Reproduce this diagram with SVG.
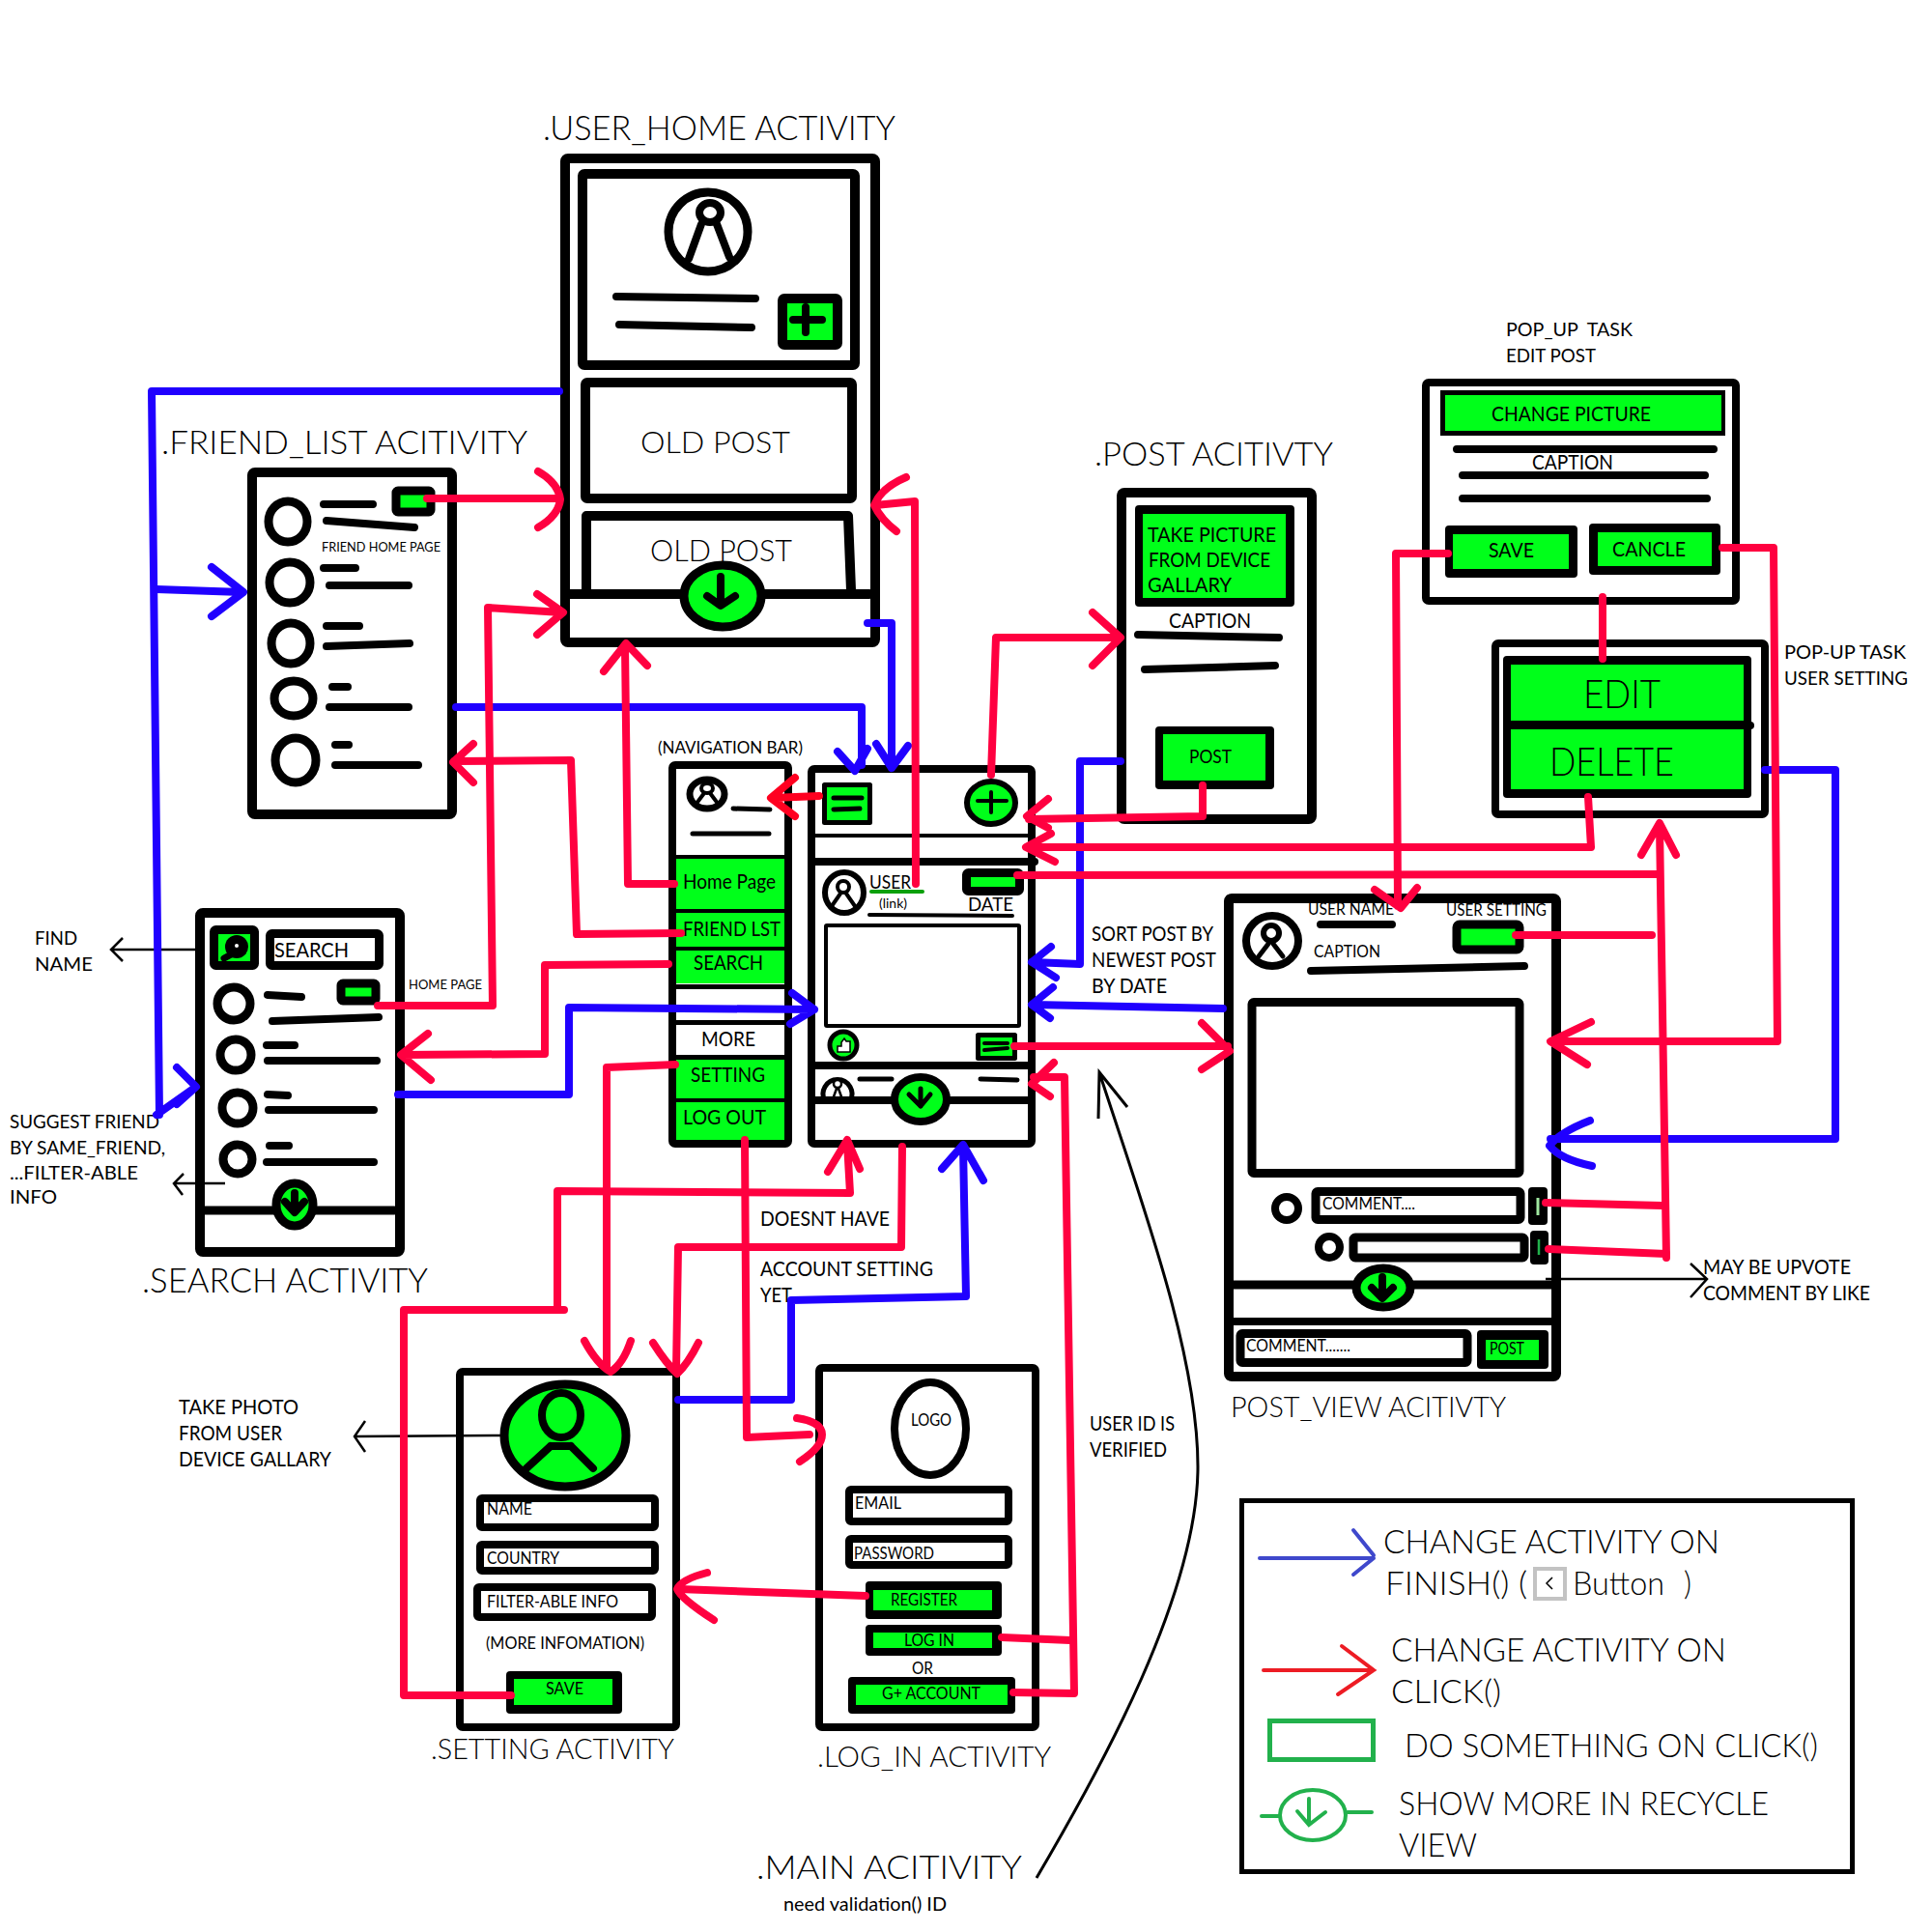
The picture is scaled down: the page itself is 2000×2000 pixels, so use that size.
<svg xmlns="http://www.w3.org/2000/svg" width="2000" height="2000" viewBox="0 0 2000 2000">
<style>
text{font-family:"Lato","Open Sans","Liberation Sans",sans-serif;font-weight:400;fill:#000}
text[font-size="29"],text[font-size="30"],text[font-size="32"],text[font-size="33"],text[font-size="34"],text[font-size="35"],text[font-size="42"]{font-weight:300}
.box{fill:#fff;stroke:#000;stroke-linejoin:round}
.btn{fill:#00ff1a;stroke:#000;stroke-linejoin:round}
.g{fill:#00ff1a;stroke:none}
.k{fill:#000;stroke:none}
.ln{fill:none;stroke:#000;stroke-linecap:round;stroke-linejoin:round}
.r{fill:none;stroke:#ff0040;stroke-width:8;stroke-linecap:round;stroke-linejoin:round}
.b{fill:none;stroke:#2000ff;stroke-width:8;stroke-linecap:round;stroke-linejoin:round}
.a{fill:none;stroke:#000;stroke-width:2.5}
</style>
<rect width="2000" height="2000" fill="#fff"/>

<g id="user_home_activity">
<text x="562" y="145" font-size="35" textLength="365" lengthAdjust="spacingAndGlyphs">.USER_HOME ACTIVITY</text>
<rect class="box" x="585" y="164" width="321" height="501" rx="3" stroke-width="10"/>
<rect class="box" x="603" y="180" width="282" height="198" rx="2" stroke-width="10"/>
<circle class="box" cx="733" cy="240" r="41" stroke-width="9"/>
<ellipse class="box" cx="735" cy="220" rx="11" ry="10" stroke-width="8"/>
<path class="ln" stroke-width="8" d="M726 232L713 268M742 232L755 266"/>
<path class="ln" stroke-width="8" d="M638 307L782 309M641 336L778 339"/>
<rect class="btn" x="810" y="309" width="57" height="48" rx="2" stroke-width="10"/>
<path class="ln" stroke-width="8" d="M821 331H851M834 318V344"/>
<rect class="box" x="606" y="396" width="276" height="120" rx="2" stroke-width="10"/>
<text x="663" y="469" font-size="32" textLength="155" lengthAdjust="spacingAndGlyphs">OLD POST</text>
<path class="ln" stroke-width="10" d="M607 611V534H878L881 611"/>
<text x="673" y="581" font-size="32" textLength="147" lengthAdjust="spacingAndGlyphs">OLD POST</text>
<path class="ln" stroke-width="10" d="M587 615H900"/>
<ellipse class="btn" cx="748" cy="617" rx="40" ry="32" stroke-width="9"/>
<path class="ln" stroke-width="8" d="M746 597V626M732 617L746 627L761 617"/>
</g>

<g id="friend_list_activity">
<text x="167" y="470" font-size="34" textLength="379" lengthAdjust="spacingAndGlyphs">.FRIEND_LIST ACITIVITY</text>
<rect class="box" x="261" y="489" width="207" height="354" rx="3" stroke-width="10"/>
<ellipse class="box" cx="298" cy="540" rx="20" ry="21" stroke-width="9"/>
<ellipse class="box" cx="300" cy="603" rx="21" ry="21" stroke-width="9"/>
<ellipse class="box" cx="301" cy="666" rx="20" ry="21" stroke-width="9"/>
<ellipse class="box" cx="304" cy="723" rx="20" ry="18" stroke-width="9"/>
<ellipse class="box" cx="306" cy="787" rx="21" ry="23" stroke-width="9"/>
<path class="ln" stroke-width="8" d="M335 522H386M338 539L429 546M335 588H368M341 606H423M338 648H372M338 669L424 666M344 711H360M341 732H423M347 771H361M347 792H433"/>
<rect class="btn" x="410" y="508" width="36" height="22" rx="2" stroke-width="9"/>
<text x="333" y="571" font-size="13" textLength="123" lengthAdjust="spacingAndGlyphs">FRIEND HOME PAGE</text>
</g>

<g id="search_activity">
<text x="147" y="1338" font-size="35" textLength="296" lengthAdjust="spacingAndGlyphs">.SEARCH ACTIVITY</text>
<rect class="box" x="207" y="945" width="207" height="351" rx="3" stroke-width="10"/>
<rect class="btn" x="221.500" y="962.500" width="42" height="37" rx="2" stroke-width="9"/>
<circle class="k" cx="245" cy="980" r="12"/>
<circle cx="245" cy="979" r="2" fill="#fff"/>
<path class="ln" stroke-width="7" d="M243 986L232 992"/>
<rect class="box" x="279.500" y="966.500" width="113" height="33" rx="2" stroke-width="9"/>
<text x="284" y="991" font-size="22" textLength="77" lengthAdjust="spacingAndGlyphs">SEARCH</text>
<circle class="box" cx="242" cy="1039" r="17" stroke-width="9"/>
<circle class="box" cx="244" cy="1092" r="16" stroke-width="9"/>
<circle class="box" cx="246" cy="1147" r="16" stroke-width="9"/>
<circle class="box" cx="246" cy="1200" r="15" stroke-width="9"/>
<path class="ln" stroke-width="8" d="M277 1030L312 1032M282 1057L392 1053M276 1082H305M277 1098H390M277 1133L298 1134M278 1149H387M279 1186H299M276 1203H387"/>
<rect class="btn" x="353" y="1018" width="36" height="18" rx="2" stroke-width="9"/>
<text x="423" y="1024" font-size="13" textLength="76" lengthAdjust="spacingAndGlyphs">HOME PAGE</text>
<path class="ln" stroke-width="9" d="M210 1253H408"/>
<ellipse class="btn" cx="305" cy="1247" rx="19" ry="22" stroke-width="9"/>
<path class="ln" stroke-width="8" d="M305 1235V1252M295 1244L305 1255L315 1244"/>
</g>

<g id="navigation_bar">
<text x="681" y="780" font-size="17" textLength="150" lengthAdjust="spacingAndGlyphs">(NAVIGATION BAR)</text>
<rect class="box" x="696" y="792" width="120" height="392" rx="3" stroke-width="8"/>
<ellipse class="box" cx="732" cy="822" rx="18" ry="15" stroke-width="7"/>
<ellipse class="box" cx="732" cy="816" rx="6" ry="5" stroke-width="4"/>
<path class="ln" stroke-width="4" d="M729 821L720 833M735 821L744 833"/>
<path class="ln" stroke-width="5" d="M759 837L797 838M717 863H796"/>
<path class="ln" stroke-width="4" d="M700 887H812"/>
<rect class="g" x="700" y="889" width="112" height="52"/>
<rect class="g" x="700" y="945" width="112" height="35"/>
<rect class="g" x="700" y="984" width="112" height="34"/>
<rect class="g" x="700" y="1097" width="112" height="40"/>
<rect class="g" x="700" y="1141" width="112" height="39"/>
<rect class="k" x="700" y="941" width="112" height="4"/>
<rect class="k" x="700" y="980" width="112" height="4"/>
<rect class="k" x="700" y="1019" width="112" height="5"/>
<rect class="k" x="700" y="1056" width="112" height="5"/>
<rect class="k" x="700" y="1092" width="112" height="5"/>
<rect class="k" x="700" y="1137" width="112" height="4"/>
<text x="707" y="920" font-size="22" textLength="96" lengthAdjust="spacingAndGlyphs">Home Page</text>
<text x="707" y="969" font-size="22" textLength="101" lengthAdjust="spacingAndGlyphs">FRIEND LST</text>
<text x="718" y="1004" font-size="22" textLength="72" lengthAdjust="spacingAndGlyphs">SEARCH</text>
<text x="726" y="1083" font-size="22" textLength="56" lengthAdjust="spacingAndGlyphs">MORE</text>
<text x="715" y="1120" font-size="22" textLength="77" lengthAdjust="spacingAndGlyphs">SETTING</text>
<text x="707" y="1164" font-size="22" textLength="86" lengthAdjust="spacingAndGlyphs">LOG OUT</text>
</g>

<g id="main_feed">
<rect class="box" x="840" y="796" width="228" height="388" rx="3" stroke-width="8"/>
<rect class="btn" x="853.500" y="812.500" width="47" height="39" stroke-width="5"/>
<path class="ln" stroke-width="5" d="M863 826H892M863 838L890 837"/>
<ellipse class="btn" cx="1026" cy="831" rx="25" ry="22" stroke-width="6"/>
<path class="ln" stroke-width="4" d="M1012 829H1042M1026 820V841"/>
<path class="ln" stroke-width="4" d="M843 865H1066"/>
<path class="ln" stroke-width="8" d="M843 892H1071"/>
<ellipse class="box" cx="874" cy="924" rx="20" ry="21" stroke-width="6"/>
<circle class="box" cx="873" cy="918" r="6" stroke-width="4"/>
<path class="ln" stroke-width="4" d="M870 925L861 938M876 925L885 938"/>
<text x="900" y="920" font-size="20" textLength="43" lengthAdjust="spacingAndGlyphs">USER</text>
<path d="M902 923H955" fill="none" stroke="#0aa00a" stroke-width="4" stroke-linecap="round"/>
<text x="910" y="940" font-size="13" textLength="29" lengthAdjust="spacingAndGlyphs">(link)</text>
<rect class="btn" x="1000.500" y="903.500" width="55" height="19" rx="2" stroke-width="9"/>
<text x="1002" y="943" font-size="20" textLength="47" lengthAdjust="spacingAndGlyphs">DATE</text>
<path class="ln" stroke-width="4" d="M900 947L1048 948"/>
<rect class="box" x="855" y="958" width="200" height="104" rx="1" stroke-width="4"/>
<circle class="btn" cx="873" cy="1082" r="14" stroke-width="5"/>
<path d="M867 1083H871V1079L874 1075L876 1078H880V1089H867Z" fill="#fff" stroke="#000" stroke-width="1.500"/>
<rect class="btn" x="1012.500" y="1071.500" width="38" height="24" stroke-width="5"/>
<path class="ln" stroke-width="4" d="M1019 1080H1043M1019 1087L1043 1085"/>
<path class="ln" stroke-width="8" d="M843 1103H1065"/>
<path class="ln" stroke-width="5" d="M854 1140A15 15 0 1 1 880 1140"/>
<circle class="box" cx="867" cy="1122" r="4" stroke-width="2.500"/>
<path class="ln" stroke-width="2.500" d="M866 1127L862 1138M868 1127L872 1138"/>
<path class="ln" stroke-width="5" d="M890 1117H923M1015 1117L1053 1118"/>
<path class="ln" stroke-width="8" d="M843 1139H1065"/>
<ellipse class="btn" cx="953" cy="1138" rx="27" ry="23" stroke-width="8"/>
<path class="ln" stroke-width="5" d="M953 1127V1145M941 1133L953 1145L963 1133"/>
</g>

<g id="post_activity">
<text x="1133" y="482" font-size="34" textLength="247" lengthAdjust="spacingAndGlyphs">.POST ACITIVTY</text>
<rect class="box" x="1161" y="510" width="197" height="338" rx="3" stroke-width="10"/>
<rect class="k" x="1175" y="523" width="165" height="105" rx="4"/>
<rect class="g" x="1183" y="532" width="148" height="87"/>
<text x="1188" y="561" font-size="21" textLength="133" lengthAdjust="spacingAndGlyphs">TAKE PICTURE</text>
<text x="1189" y="587" font-size="21" textLength="126" lengthAdjust="spacingAndGlyphs">FROM DEVICE</text>
<text x="1188" y="613" font-size="21" textLength="87" lengthAdjust="spacingAndGlyphs">GALLARY</text>
<text x="1210" y="650" font-size="21" textLength="85" lengthAdjust="spacingAndGlyphs">CAPTION</text>
<path class="ln" stroke-width="8" d="M1178 657L1324 660M1185 693L1320 689"/>
<rect class="k" x="1196" y="752" width="123" height="65" rx="4"/>
<rect class="g" x="1204" y="760" width="106" height="48"/>
<text x="1231" y="790" font-size="20" textLength="44" lengthAdjust="spacingAndGlyphs">POST</text>
</g>

<g id="popup_edit_post">
<text x="1559" y="348" font-size="20" textLength="131" lengthAdjust="spacingAndGlyphs" xml:space="preserve">POP_UP  TASK</text>
<text x="1559" y="375" font-size="20" textLength="93" lengthAdjust="spacingAndGlyphs">EDIT POST</text>
<rect class="box" x="1476" y="396" width="321" height="226" rx="3" stroke-width="8"/>
<rect class="k" x="1491" y="404" width="295" height="47"/>
<rect class="g" x="1496" y="409" width="286" height="37"/>
<text x="1544" y="436" font-size="21" textLength="165" lengthAdjust="spacingAndGlyphs">CHANGE PICTURE</text>
<path class="ln" stroke-width="8" d="M1508 465H1774M1514 492H1765M1514 516H1767"/>
<text x="1586" y="486" font-size="21" textLength="84" lengthAdjust="spacingAndGlyphs">CAPTION</text>
<rect class="k" x="1496" y="544" width="137" height="54" rx="4"/>
<rect class="g" x="1504" y="553" width="120" height="36"/>
<text x="1541" y="577" font-size="21" textLength="47" lengthAdjust="spacingAndGlyphs">SAVE</text>
<rect class="k" x="1645" y="542" width="136" height="53" rx="4"/>
<rect class="g" x="1654" y="551" width="118" height="35"/>
<text x="1669" y="576" font-size="21" textLength="76" lengthAdjust="spacingAndGlyphs">CANCLE</text>
</g>

<g id="popup_user_setting">
<text x="1847" y="682" font-size="20" textLength="126" lengthAdjust="spacingAndGlyphs">POP-UP TASK</text>
<text x="1847" y="709" font-size="20" textLength="128" lengthAdjust="spacingAndGlyphs">USER SETTING</text>
<rect class="box" x="1548" y="666" width="279" height="177" rx="3" stroke-width="8"/>
<rect class="k" x="1556" y="679" width="257" height="147" rx="4"/>
<rect class="g" x="1564" y="688" width="241" height="58"/>
<rect class="g" x="1564" y="755" width="241" height="62"/>
<path class="ln" stroke-width="8" d="M1806 751H1812"/>
<text x="1639" y="733" font-size="42" textLength="80" lengthAdjust="spacingAndGlyphs">EDIT</text>
<text x="1604" y="803" font-size="42" textLength="129" lengthAdjust="spacingAndGlyphs">DELETE</text>
</g>

<g id="post_view_activity">
<rect class="box" x="1272" y="930" width="339" height="495" rx="3" stroke-width="10"/>
<ellipse class="box" cx="1317" cy="974" rx="27" ry="26" stroke-width="8"/>
<circle class="box" cx="1316" cy="966" r="8" stroke-width="6"/>
<path class="ln" stroke-width="5" d="M1313 977L1303 990M1318 977L1328 990"/>
<text x="1354" y="947" font-size="18" textLength="89" lengthAdjust="spacingAndGlyphs">USER NAME</text>
<text x="1497" y="948" font-size="18" textLength="104" lengthAdjust="spacingAndGlyphs">USER SETTING</text>
<text x="1360" y="991" font-size="18" textLength="69" lengthAdjust="spacingAndGlyphs">CAPTION</text>
<path class="ln" stroke-width="8" d="M1367 957H1441M1357 1005L1578 1000"/>
<rect class="btn" x="1508" y="957" width="65" height="26" rx="3" stroke-width="9"/>
<rect class="box" x="1296" y="1037.500" width="277" height="177" rx="2" stroke-width="9"/>
<circle class="box" cx="1332" cy="1251" r="12" stroke-width="8"/>
<rect class="box" x="1362" y="1233.500" width="212" height="29" rx="2" stroke-width="9"/>
<text x="1369" y="1252" font-size="17" textLength="96" lengthAdjust="spacingAndGlyphs">COMMENT....</text>
<rect class="k" x="1582" y="1229" width="20" height="39" rx="4"/>
<path d="M1592 1240V1258" stroke="#a0e8a0" stroke-width="3"/>
<circle class="box" cx="1376" cy="1291" r="11" stroke-width="8"/>
<rect class="box" x="1401" y="1281" width="177" height="21" rx="2" stroke-width="9"/>
<rect class="k" x="1584" y="1274" width="19" height="35" rx="4"/>
<path d="M1593 1283V1299" stroke="#22b14c" stroke-width="2.500"/>
<path class="ln" stroke-width="9" d="M1277 1330H1607"/>
<ellipse class="btn" cx="1432" cy="1333" rx="28" ry="20" stroke-width="9"/>
<path class="ln" stroke-width="8" d="M1431 1322V1343M1420 1333L1431 1344L1442 1333"/>
<path class="ln" stroke-width="8" d="M1277 1368H1607"/>
<rect class="box" x="1284" y="1380.500" width="235" height="30" rx="2" stroke-width="9"/>
<text x="1290" y="1399" font-size="17" textLength="108" lengthAdjust="spacingAndGlyphs">COMMENT.......</text>
<rect class="k" x="1529" y="1377" width="74" height="40" rx="4"/>
<rect class="g" x="1538" y="1387" width="55" height="21"/>
<text x="1542" y="1402" font-size="18" textLength="36" lengthAdjust="spacingAndGlyphs">POST</text>
<text x="1274" y="1467" font-size="30" textLength="285" lengthAdjust="spacingAndGlyphs">POST_VIEW ACITIVTY</text>
</g>

<g id="setting_activity">
<rect class="box" x="476" y="1420" width="224" height="368" rx="3" stroke-width="8"/>
<ellipse class="btn" cx="585" cy="1486" rx="63" ry="53" stroke-width="9"/>
<ellipse cx="581" cy="1465" rx="20" ry="23" fill="none" stroke="#000" stroke-width="8"/>
<path class="ln" stroke-width="8" d="M570 1497L545 1520M591 1497L614 1520M570 1497H591"/>
<rect class="box" x="497" y="1551" width="181" height="30" rx="2" stroke-width="8"/>
<text x="504" y="1568" font-size="18" textLength="47" lengthAdjust="spacingAndGlyphs">NAME</text>
<rect class="box" x="497" y="1599" width="181" height="27" rx="2" stroke-width="8"/>
<text x="504" y="1619" font-size="18" textLength="75" lengthAdjust="spacingAndGlyphs">COUNTRY</text>
<rect class="box" x="494" y="1643" width="181" height="31" rx="2" stroke-width="8"/>
<text x="504" y="1664" font-size="18" textLength="136" lengthAdjust="spacingAndGlyphs">FILTER-ABLE INFO</text>
<text x="503" y="1707" font-size="18" textLength="164" lengthAdjust="spacingAndGlyphs">(MORE INFOMATION)</text>
<rect class="k" x="524" y="1730" width="120" height="44" rx="4"/>
<rect class="g" x="532" y="1738" width="102" height="27"/>
<text x="565" y="1754" font-size="18" textLength="39" lengthAdjust="spacingAndGlyphs">SAVE</text>
<text x="446" y="1821" font-size="29" textLength="252" lengthAdjust="spacingAndGlyphs">.SETTING ACTIVITY</text>
</g>

<g id="log_in_activity">
<rect class="box" x="848" y="1416" width="224" height="372" rx="3" stroke-width="8"/>
<ellipse class="box" cx="963" cy="1479" rx="37" ry="48" stroke-width="8"/>
<text x="943" y="1476" font-size="18" textLength="42" lengthAdjust="spacingAndGlyphs">LOGO</text>
<rect class="box" x="879" y="1542" width="165" height="33" rx="2" stroke-width="8"/>
<text x="885" y="1562" font-size="18" textLength="48" lengthAdjust="spacingAndGlyphs">EMAIL</text>
<rect class="box" x="879" y="1593" width="165" height="27" rx="2" stroke-width="8"/>
<text x="884" y="1614" font-size="18" textLength="83" lengthAdjust="spacingAndGlyphs">PASSWORD</text>
<rect class="k" x="896" y="1637" width="141" height="39" rx="4"/>
<rect class="g" x="904" y="1646" width="123" height="21"/>
<text x="922" y="1662" font-size="18" textLength="69" lengthAdjust="spacingAndGlyphs">REGISTER</text>
<rect class="k" x="896" y="1682" width="141" height="32" rx="4"/>
<rect class="g" x="904" y="1690" width="123" height="16"/>
<text x="936" y="1704" font-size="18" textLength="52" lengthAdjust="spacingAndGlyphs">LOG IN</text>
<text x="944" y="1733" font-size="18" textLength="22" lengthAdjust="spacingAndGlyphs">OR</text>
<rect class="k" x="878" y="1736" width="173" height="38" rx="4"/>
<rect class="g" x="886" y="1744" width="157" height="21"/>
<text x="913" y="1759" font-size="18" textLength="102" lengthAdjust="spacingAndGlyphs">G+ ACCOUNT</text>
<text x="846" y="1829" font-size="29" textLength="242" lengthAdjust="spacingAndGlyphs">.LOG_IN ACTIVITY</text>
</g>

<g id="main_activity">
<text x="783" y="1945" font-size="33" textLength="275" lengthAdjust="spacingAndGlyphs">.MAIN ACITIVITY</text>
<text x="811" y="1978" font-size="19" textLength="169" lengthAdjust="spacingAndGlyphs">need validation() ID</text>
</g>

<g id="notes">
<text x="36" y="978" font-size="20" textLength="44" lengthAdjust="spacingAndGlyphs">FIND</text>
<text x="36" y="1005" font-size="20" textLength="60" lengthAdjust="spacingAndGlyphs">NAME</text>
<text x="10" y="1168" font-size="20" textLength="155" lengthAdjust="spacingAndGlyphs">SUGGEST FRIEND</text>
<text x="10" y="1195" font-size="20" textLength="161" lengthAdjust="spacingAndGlyphs">BY SAME_FRIEND,</text>
<text x="10" y="1221" font-size="20" textLength="133" lengthAdjust="spacingAndGlyphs">...FILTER-ABLE</text>
<text x="10" y="1246" font-size="20" textLength="49" lengthAdjust="spacingAndGlyphs">INFO</text>
<text x="185" y="1464" font-size="21" textLength="124" lengthAdjust="spacingAndGlyphs">TAKE PHOTO</text>
<text x="185" y="1491" font-size="21" textLength="107" lengthAdjust="spacingAndGlyphs">FROM USER</text>
<text x="185" y="1518" font-size="21" textLength="158" lengthAdjust="spacingAndGlyphs">DEVICE GALLARY</text>
<text x="1130" y="974" font-size="21" textLength="126" lengthAdjust="spacingAndGlyphs">SORT POST BY</text>
<text x="1130" y="1001" font-size="21" textLength="129" lengthAdjust="spacingAndGlyphs">NEWEST POST</text>
<text x="1130" y="1028" font-size="21" textLength="78" lengthAdjust="spacingAndGlyphs">BY DATE</text>
<text x="787" y="1269" font-size="21" textLength="134" lengthAdjust="spacingAndGlyphs">DOESNT HAVE</text>
<text x="787" y="1321" font-size="21" textLength="179" lengthAdjust="spacingAndGlyphs">ACCOUNT SETTING</text>
<text x="787" y="1348" font-size="21" textLength="33" lengthAdjust="spacingAndGlyphs">YET</text>
<text x="1128" y="1481" font-size="21" textLength="88" lengthAdjust="spacingAndGlyphs">USER ID IS</text>
<text x="1128" y="1508" font-size="21" textLength="80" lengthAdjust="spacingAndGlyphs">VERIFIED</text>
<text x="1763" y="1319" font-size="21" textLength="153" lengthAdjust="spacingAndGlyphs">MAY BE UPVOTE</text>
<text x="1763" y="1346" font-size="21" textLength="173" lengthAdjust="spacingAndGlyphs">COMMENT BY LIKE</text>
</g>

<g id="legend">
<rect x="1285.500" y="1553.500" width="632" height="384" fill="none" stroke="#000" stroke-width="5"/>
<path d="M1304 1613H1422M1401 1584L1422 1610M1422 1613L1401 1630" fill="none" stroke="#3f48cc" stroke-width="4" stroke-linecap="round"/>
<text x="1432" y="1608" font-size="33" textLength="348" lengthAdjust="spacingAndGlyphs">CHANGE ACTIVITY ON</text>
<text x="1434" y="1651" font-size="33" textLength="147" lengthAdjust="spacingAndGlyphs">FINISH() (</text>
<rect x="1589" y="1624" width="31" height="31" fill="#fff" stroke="#c3c3c3" stroke-width="4"/>
<path d="M1607 1633L1601 1639L1607 1645" fill="none" stroke="#000" stroke-width="1.500"/>
<text x="1628" y="1651" font-size="33" textLength="95" lengthAdjust="spacingAndGlyphs">Button</text>
<text x="1743" y="1651" font-size="33" textLength="8" lengthAdjust="spacingAndGlyphs">)</text>
<path d="M1308 1729H1422M1389 1704L1422 1729L1385 1754" fill="none" stroke="#ed1c24" stroke-width="4" stroke-linecap="round"/>
<text x="1440" y="1720" font-size="33" textLength="347" lengthAdjust="spacingAndGlyphs">CHANGE ACTIVITY ON</text>
<text x="1440" y="1763" font-size="33" textLength="114" lengthAdjust="spacingAndGlyphs">CLICK()</text>
<rect x="1314.500" y="1781.500" width="107" height="40" fill="none" stroke="#22b14c" stroke-width="5"/>
<text x="1454" y="1819" font-size="33" textLength="428" lengthAdjust="spacingAndGlyphs">DO SOMETHING ON CLICK()</text>
<ellipse cx="1359" cy="1879" rx="34" ry="26" fill="none" stroke="#22b14c" stroke-width="4"/>
<path d="M1306 1880H1324M1395 1876H1420M1355 1862V1889M1343 1875L1355 1889L1372 1876" fill="none" stroke="#22b14c" stroke-width="4" stroke-linecap="round"/>
<text x="1448" y="1879" font-size="33" textLength="383" lengthAdjust="spacingAndGlyphs">SHOW MORE IN RECYCLE</text>
<text x="1448" y="1922" font-size="33" textLength="81" lengthAdjust="spacingAndGlyphs">VIEW</text>
</g>

<g id="connectors">
<path class="a" d="M204 983H115M127 971L115 983L127 995"/>
<path class="a" d="M233 1225H180M190 1215L180 1225L189 1237"/>
<path class="a" d="M518 1486L367 1487M378 1471L367 1487L378 1503"/>
<path class="a" d="M1600 1324H1767M1750 1308L1767 1324L1750 1343"/>
<path d="M1073 1944C1140 1830 1240 1650 1240 1518C1240 1400 1180 1240 1138 1110M1137 1158L1138 1110L1167 1146" fill="none" stroke="#000" stroke-width="3"/>

<path class="b" d="M579 405H157L165 1154M162 1154L203 1125M183 1105L203 1125L183 1143"/>
<path class="b" d="M162 610L250 613M219 587L252 613L219 638"/>
<path class="b" d="M472 732H892V792M867 778L885 798L898 775"/>
<path class="b" d="M898 645H923V795M907 770L923 795L940 772"/>
<path class="b" d="M412 1133H589V1043L843 1045M820 1028L843 1045L818 1060"/>
<path class="b" d="M1160 788H1118V998L1068 996M1088 980L1068 996L1093 1012"/>
<path class="b" d="M1266 1044L1069 1040M1090 1022L1068 1040L1087 1054"/>
<path class="b" d="M702 1449H819V1346L1000 1342L997 1187M975 1210L997 1185L1018 1222"/>
<path class="b" d="M1827 797H1900V1179H1605M1646 1160Q1615 1172 1604 1186Q1615 1200 1648 1207"/>

<path class="r" d="M442 516H578M557 488Q578 500 580 517Q578 534 557 546"/>
<path class="r" d="M391 1041H510L505 629L581 634M556 615L583 634L556 657"/>
<path class="r" d="M698 915H650L647 668M625 695L648 666L670 689"/>
<path class="r" d="M705 966L597 967L591 787L470 788M490 770L469 789L490 810"/>
<path class="r" d="M692 998L564 999V1091L416 1092M443 1070L415 1092L446 1118"/>
<path class="r" d="M948 915L947 519L906 523M938 494Q912 505 905 523Q912 538 928 550"/>
<path class="r" d="M1026 802L1031 660L1159 660M1131 634L1160 660L1131 689"/>
<path class="r" d="M848 824L799 826M823 805L798 826L823 845" style="stroke:#ff0020"/>
<path class="r" d="M1245 813V845L1065 848M1085 827L1063 845L1085 857"/>
<path class="r" d="M1644 825L1647 877H1064M1088 863L1062 877L1092 892"/>
<path class="r" d="M1053 906L1717 905"/>
<path class="r" d="M1718 855L1725 1302M1699 885L1718 852L1735 885"/>
<path class="r" d="M1569 968H1710"/>
<path class="r" d="M1600 1245L1720 1248"/>
<path class="r" d="M1603 1293L1725 1298"/>
<path class="r" d="M1050 1083H1271M1244 1059L1273 1088L1244 1107"/>
<path class="r" d="M1499 573H1445L1447 938M1423 921L1450 940L1467 919"/>
<path class="r" d="M1783 567H1836L1840 1078H1606M1647 1058L1605 1078L1643 1102"/>
<path class="r" d="M1659 618V682"/>
<path class="r" d="M1037 1695L1108 1698"/>
<path class="r" d="M1049 1752L1112 1753L1102 1115H1070M1091 1100L1068 1122L1087 1135"/>
<path class="r" d="M529 1755H418V1356H584M577 1356V1233L880 1235L877 1183M857 1213L877 1180L890 1210"/>
<path class="r" d="M699 1102L628 1105V1416M605 1388Q618 1412 632 1420Q645 1412 653 1388"/>
<path class="r" d="M934 1187L933 1291L702 1291L700 1418M676 1390Q690 1412 701 1422Q712 1412 723 1390"/>
<path class="r" d="M771 1180L773 1488L838 1485M825 1468Q851 1472 851 1485Q851 1498 828 1513"/>
<path class="r" d="M896 1652L703 1645M732 1628Q705 1635 701 1645Q705 1655 739 1677"/>
</g>
</svg>
